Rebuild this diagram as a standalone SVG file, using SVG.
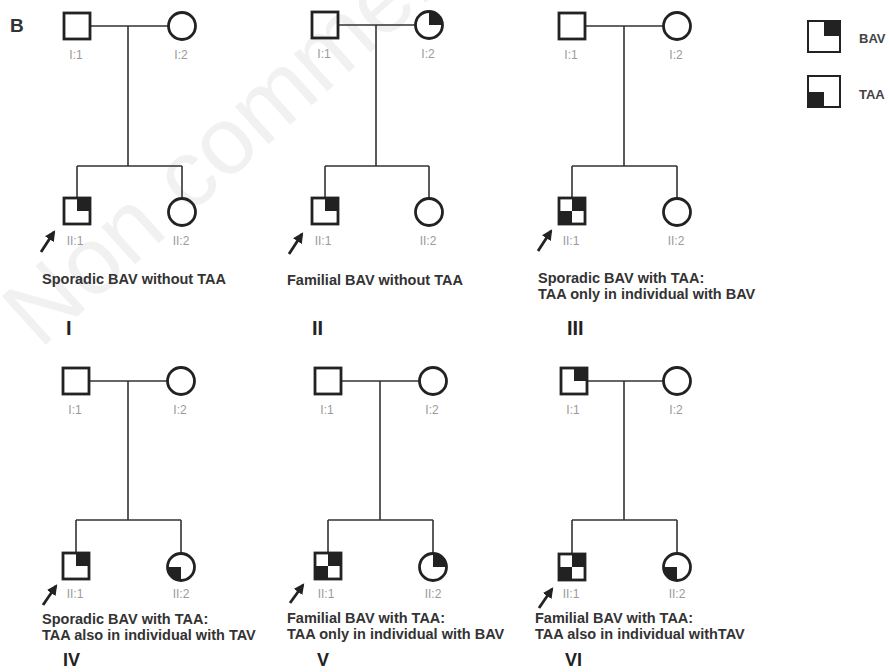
<svg xmlns="http://www.w3.org/2000/svg" width="889" height="672" viewBox="0 0 889 672">
<style>
.sq{fill:none;stroke:#222;stroke-width:2.8}
.q{fill:#222;stroke:none}
.ln{stroke:#333;stroke-width:1.6;fill:none}
.ar{stroke:#222;stroke-width:2.8;fill:none}
.lbl{font-family:"Liberation Sans",Arial,sans-serif;font-size:12px;fill:#9a9a9a;text-anchor:middle}
.desc{font-family:"Liberation Sans",Arial,sans-serif;font-size:14.5px;font-weight:bold;fill:#333}
.num{font-family:"Liberation Sans",Arial,sans-serif;font-size:20px;font-weight:bold;fill:#222}
.num2{font-family:"Liberation Sans",Arial,sans-serif;font-size:18px;font-weight:bold;fill:#222}
.leg{font-family:"Liberation Sans",Arial,sans-serif;font-size:13px;font-weight:bold;fill:#444}
.wm{font-family:"Liberation Sans",Arial,sans-serif;font-size:95px;fill:#f1f1f1}
</style>
<defs>
<marker id="ah" viewBox="0 0 10 10" refX="8" refY="5" markerWidth="3.8" markerHeight="3.8" orient="auto" markerUnits="strokeWidth">
<path d="M0,0 L10,5 L0,10 Z" fill="#222"/>
</marker>
</defs>
<rect width="889" height="672" fill="#fff"/>
<text class="wm" x="40" y="350" transform="rotate(-42 40 350)">Non commercial use only</text>
<text x="10" y="32" font-family="Liberation Sans,Arial,sans-serif" font-size="19" font-weight="bold" fill="#333">B</text>

<g id="connectors">
<path class="ln" d="M90,26 H168.5 M128,26 V166 M77,166 H182 M77,166 V198 M182,166 V198.5"/>
<path class="ln" d="M338,25 H415.5 M376,25 V166 M325,166 H429 M325,166 V198 M429,166 V198.5"/>
<path class="ln" d="M585,26 H663.5 M624,26 V166 M572,166 H677 M572,166 V198 M677,166 V198.5"/>
<path class="ln" d="M89,381 H167.5 M128,381 V520 M76,520 H181 M76,520 V553 M181,520 V553.5"/>
<path class="ln" d="M341,381 H419.5 M380,381 V520 M328,520 H433 M328,520 V553 M433,520 V553.5"/>
<path class="ln" d="M587,381 H663.5 M624,381 V520 M572,520 H677 M572,520 V554 M677,520 V553.5"/>
<path class="ar" marker-end="url(#ah)" d="M41,252 L54,232"/>
<path class="ar" marker-end="url(#ah)" d="M289,254 L302,234"/>
<path class="ar" marker-end="url(#ah)" d="M538,251 L551,231"/>
<path class="ar" marker-end="url(#ah)" d="M43,605 L56,586"/>
<path class="ar" marker-end="url(#ah)" d="M290,603 L303,585"/>
<path class="ar" marker-end="url(#ah)" d="M539,608 L552,589"/>
</g>

<g id="p1-I1"><rect class="sq" x="64" y="13" width="26" height="26"/><text class="lbl" x="76" y="59">I:1</text></g>
<g id="p1-I2"><circle class="sq" cx="182" cy="26" r="13.5"/><text class="lbl" x="181" y="59">I:2</text></g>
<g id="p1-II1"><rect class="q" x="77" y="198" width="13" height="13"/><rect class="sq" x="64" y="198" width="26" height="26"/><text class="lbl" x="75" y="245">II:1</text></g>
<g id="p1-II2"><circle class="sq" cx="182" cy="212" r="13.5"/><text class="lbl" x="181" y="245">II:2</text></g>
<g id="p1-text"><text class="desc" x="42" y="284">Sporadic BAV without TAA</text><text class="num" x="66" y="335">I</text></g>

<g id="p2-I1"><rect class="sq" x="312" y="12" width="26" height="26"/><text class="lbl" x="324" y="58">I:1</text></g>
<g id="p2-I2"><path class="q" d="M429,25 V11.5 A13.5,13.5 0 0 1 442.5,25 Z"/><circle class="sq" cx="429" cy="25" r="13.5"/><text class="lbl" x="428" y="58">I:2</text></g>
<g id="p2-II1"><rect class="q" x="325" y="198" width="13" height="13"/><rect class="sq" x="312" y="198" width="26" height="26"/><text class="lbl" x="323" y="245">II:1</text></g>
<g id="p2-II2"><circle class="sq" cx="429" cy="212" r="13.5"/><text class="lbl" x="428" y="245">II:2</text></g>
<g id="p2-text"><text class="desc" x="287" y="285">Familial BAV without TAA</text><text class="num" x="312" y="335">II</text></g>

<g id="p3-I1"><rect class="sq" x="559" y="13" width="26" height="26"/><text class="lbl" x="571" y="59">I:1</text></g>
<g id="p3-I2"><circle class="sq" cx="677" cy="26" r="13.5"/><text class="lbl" x="676" y="59">I:2</text></g>
<g id="p3-II1"><rect class="q" x="572" y="198" width="13" height="13"/><rect class="q" x="559" y="211" width="13" height="13"/><rect class="sq" x="559" y="198" width="26" height="26"/><text class="lbl" x="571" y="245">II:1</text></g>
<g id="p3-II2"><circle class="sq" cx="677" cy="212" r="13.5"/><text class="lbl" x="676" y="245">II:2</text></g>
<g id="p3-text"><text class="desc" x="538" y="283">Sporadic BAV with TAA:</text><text class="desc" x="538" y="299">TAA only in individual with BAV</text><text class="num" x="567" y="335">III</text></g>

<g id="p4-I1"><rect class="sq" x="63" y="368" width="26" height="26"/><text class="lbl" x="75" y="414">I:1</text></g>
<g id="p4-I2"><circle class="sq" cx="181" cy="381" r="13.5"/><text class="lbl" x="180" y="414">I:2</text></g>
<g id="p4-II1"><rect class="q" x="76" y="553" width="13" height="13"/><rect class="sq" x="63" y="553" width="26" height="26"/><text class="lbl" x="75" y="598">II:1</text></g>
<g id="p4-II2"><path class="q" d="M181,567 V580.5 A13.5,13.5 0 0 1 167.5,567 Z"/><circle class="sq" cx="181" cy="567" r="13.5"/><text class="lbl" x="181" y="598">II:2</text></g>
<g id="p4-text"><text class="desc" x="42" y="624">Sporadic BAV with TAA:</text><text class="desc" x="42" y="640">TAA also in individual with TAV</text><text class="num2" x="63" y="666">IV</text></g>

<g id="p5-I1"><rect class="sq" x="315" y="368" width="26" height="26"/><text class="lbl" x="327" y="414">I:1</text></g>
<g id="p5-I2"><circle class="sq" cx="433" cy="381" r="13.5"/><text class="lbl" x="432" y="414">I:2</text></g>
<g id="p5-II1"><rect class="q" x="328" y="553" width="13" height="13"/><rect class="q" x="315" y="566" width="13" height="13"/><rect class="sq" x="315" y="553" width="26" height="26"/><text class="lbl" x="326" y="598">II:1</text></g>
<g id="p5-II2"><path class="q" d="M433,567 V553.5 A13.5,13.5 0 0 1 446.5,567 Z"/><circle class="sq" cx="433" cy="567" r="13.5"/><text class="lbl" x="433" y="598">II:2</text></g>
<g id="p5-text"><text class="desc" x="287" y="623">Familial BAV with TAA:</text><text class="desc" x="287" y="639">TAA only in individual with BAV</text><text class="num2" x="317" y="666">V</text></g>

<g id="p6-I1"><rect class="q" x="574" y="368" width="13" height="13"/><rect class="sq" x="561" y="368" width="26" height="26"/><text class="lbl" x="573" y="414">I:1</text></g>
<g id="p6-I2"><circle class="sq" cx="677" cy="381" r="13.5"/><text class="lbl" x="676" y="414">I:2</text></g>
<g id="p6-II1"><rect class="q" x="572" y="554" width="13" height="13"/><rect class="q" x="559" y="567" width="13" height="13"/><rect class="sq" x="559" y="554" width="26" height="26"/><text class="lbl" x="571" y="598">II:1</text></g>
<g id="p6-II2"><path class="q" d="M677,567 V580.5 A13.5,13.5 0 0 1 663.5,567 Z"/><circle class="sq" cx="677" cy="567" r="13.5"/><text class="lbl" x="677" y="598">II:2</text></g>
<g id="p6-text"><text class="desc" x="535" y="623">Familial BAV with TAA:</text><text class="desc" x="535" y="639">TAA also in individual withTAV</text><text class="num2" x="565" y="666">VI</text></g>

<g id="legend-BAV"><rect class="q" x="824" y="21" width="16" height="15"/><rect x="808" y="21" width="32" height="31" fill="none" stroke="#222" stroke-width="2"/><text class="leg" x="859" y="43">BAV</text></g>
<g id="legend-TAA"><rect class="q" x="808" y="92" width="16" height="15"/><rect x="808" y="76" width="32" height="31" fill="none" stroke="#222" stroke-width="2"/><text class="leg" x="859" y="99">TAA</text></g>
</svg>
